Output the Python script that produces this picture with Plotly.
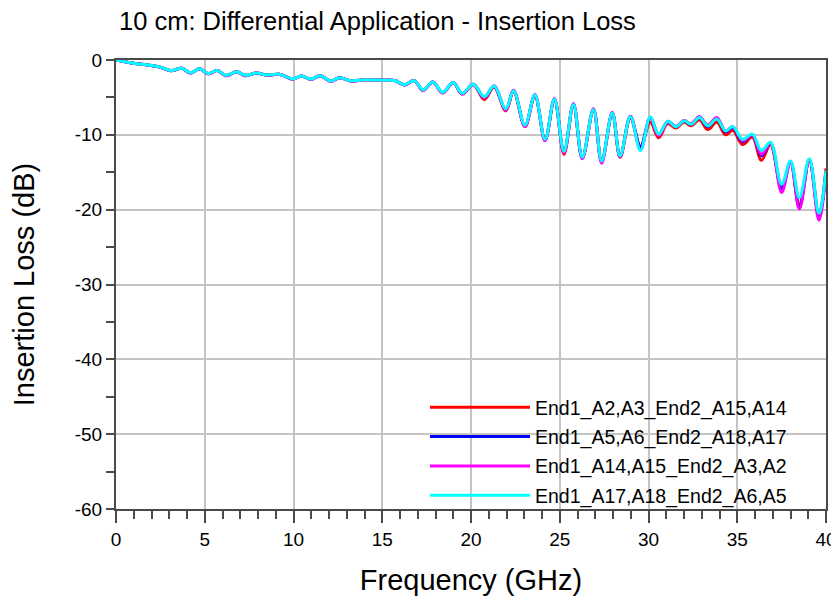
import plotly.graph_objects as go

# Frequency points (GHz) (ripple peaks / troughs)
freq_ghz = [0, 0.8, 2.5, 3.1, 3.7, 4.2, 4.7, 5.2, 5.7, 6.2,
            6.8, 7.3, 7.9, 8.5, 9.2, 9.95, 10.45, 11.0, 11.5, 12.1,
            12.6, 13.2, 14.0, 15.0, 15.7, 16.25, 16.8, 17.3, 17.85, 18.4,
            19.0, 19.5, 20.13, 20.75, 21.3, 21.96, 22.4, 23.04, 23.6, 24.17,
            24.7, 25.24, 25.77, 26.27, 26.9, 27.36, 27.96, 28.4, 28.98, 29.55,
            30.1, 30.57, 31.08, 31.55, 32.0, 32.4, 32.87, 33.34, 33.85, 34.34,
            34.75, 35.3, 35.85, 36.36, 36.87, 37.5, 38.0, 38.5, 39.06, 39.6,
            40.0]

# Insertion loss (dB) for each port pair
il_a2a3 = [0, -0.36, -0.95, -1.4, -1.1, -1.7, -1.16, -1.8, -1.4, -2.05,
           -1.56, -2.05, -1.74, -2.0, -1.9, -2.5, -2.14, -2.55, -2.1, -2.8,
           -2.36, -2.76, -2.65, -2.7, -2.75, -3.3, -2.76, -4.05, -2.94, -4.4,
           -3.0, -4.55, -3.3, -5.3, -3.6, -6.8, -4.2, -8.9, -4.8, -10.7,
           -5.3, -12.6, -6.0, -13.1, -6.7, -13.5, -7.2, -13.0, -7.8, -11.6,
           -8.3, -10.4, -8.5, -9.1, -8.3, -8.8, -8.0, -9.3, -8.3, -10.0,
           -9.4, -11.3, -10.3, -13.4, -11.3, -17.2, -13.6, -19.3, -13.3, -20.9,
           -14.5]
il_a5a6 = [0, -0.36, -0.97, -1.45, -1.1, -1.75, -1.16, -1.85, -1.4, -2.1,
           -1.56, -2.1, -1.74, -2.05, -1.9, -2.55, -2.14, -2.6, -2.1, -2.85,
           -2.36, -2.8, -2.65, -2.7, -2.75, -3.35, -2.76, -4.05, -2.94, -4.35,
           -3.0, -4.5, -3.25, -5.0, -3.5, -6.6, -4.1, -8.8, -4.7, -10.7,
           -5.25, -12.3, -5.9, -13.1, -6.55, -13.6, -7.05, -12.9, -7.55, -11.6,
           -7.7, -10.0, -8.2, -8.9, -8.1, -8.6, -7.6, -8.9, -7.8, -9.6,
           -9.0, -10.9, -10.0, -12.8, -11.1, -17.1, -13.6, -19.7, -13.3, -20.8,
           -15.0]
il_a14a15 = [0, -0.36, -0.97, -1.45, -1.1, -1.75, -1.16, -1.85, -1.4, -2.1,
             -1.56, -2.1, -1.74, -2.05, -1.9, -2.55, -2.14, -2.6, -2.1, -2.85,
             -2.36, -2.8, -2.65, -2.7, -2.75, -3.35, -2.76, -4.1, -2.94, -4.4,
             -3.0, -4.55, -3.25, -5.05, -3.45, -6.7, -4.05, -8.9, -4.6, -10.8,
             -5.15, -12.4, -5.8, -13.2, -6.5, -13.8, -7.0, -12.9, -7.5, -12.0,
             -7.7, -10.1, -8.3, -8.9, -8.1, -8.5, -7.6, -8.7, -7.7, -9.5,
             -8.9, -10.8, -10.0, -12.6, -11.1, -17.7, -13.7, -19.9, -13.4, -21.4,
             -15.0]
il_a17a18 = [0, -0.36, -0.95, -1.4, -1.1, -1.7, -1.16, -1.8, -1.4, -2.05,
             -1.56, -2.05, -1.74, -2.0, -1.9, -2.5, -2.14, -2.55, -2.1, -2.8,
             -2.36, -2.76, -2.65, -2.7, -2.75, -3.3, -2.76, -4.0, -2.94, -4.3,
             -3.0, -4.45, -3.25, -4.9, -3.48, -6.5, -4.1, -8.7, -4.68, -10.6,
             -5.26, -12.2, -5.93, -13.0, -6.6, -13.5, -7.1, -12.8, -7.58, -12.1,
             -7.6, -9.9, -8.2, -8.93, -8.13, -8.58, -7.7, -8.8, -7.9, -9.47,
             -8.9, -10.6, -9.9, -12.1, -11.0, -16.6, -13.5, -18.4, -13.2, -20.5,
             -14.8]

series_names = ["End1_A2,A3_End2_A15,A14", "End1_A5,A6_End2_A18,A17",
                "End1_A14,A15_End2_A3,A2", "End1_A17,A18_End2_A6,A5"]
series_values = [il_a2a3, il_a5a6, il_a14a15, il_a17a18]
series_colors = ["#ff0000", "#0000ff", "#ff00ff", "#00ffff"]

x_ticks = [0, 5, 10, 15, 20, 25, 30, 35, 40]
x_tick_labels = ["0", "5", "10", "15", "20", "25", "30", "35", "40"]
y_ticks = [0, -10, -20, -30, -40, -50, -60]
y_tick_labels = ["0", "-10", "-20", "-30", "-40", "-50", "-60"]

FONT = "Liberation Sans, Arial, sans-serif"
OFF = 8  # page body margin of the HTML page

fig = go.Figure()
for i, (name, vals, col) in enumerate(zip(series_names, series_values, series_colors)):
    fig.add_trace(go.Scatter(
        x=freq_ghz, y=vals, name=name, mode="lines",
        line=dict(color=col, width=3, shape="spline", smoothing=1.0),
        legendgroup=f"g{i}",
    ))

axis_common = dict(
    showgrid=True, gridcolor="#c4c4c4", gridwidth=1.5,
    showline=True, linecolor="#4a4a4a", linewidth=2, mirror=True,
    ticks="outside", tickcolor="#4a4a4a", tickwidth=2,
    zeroline=False, automargin=False,
    tickfont=dict(family=FONT, size=19, color="black"),
    title_font=dict(family=FONT, size=29, color="black"),
)

W, H = 839 - OFF, 604 - OFF
fig.update_layout(
    width=W, height=H, autosize=False,
    margin=dict(l=116 - OFF, r=13, t=60 - OFF, b=95),
    paper_bgcolor="white", plot_bgcolor="white",
    font=dict(family=FONT, color="black"),
    title=dict(text="10 cm: Differential Application - Insertion Loss",
               x=(119 - OFF) / W, xref="container", xanchor="left",
               y=1 - (21 - OFF) / H, yref="container", yanchor="middle",
               font=dict(family=FONT, size=25.5, color="black")),
    xaxis=dict(range=[0, 40], tickvals=x_ticks, ticktext=x_tick_labels, ticklen=12,
               minor=dict(dtick=1, ticks="outside", ticklen=8, tickcolor="#4a4a4a",
                          tickwidth=1.5, showgrid=False),
               title=dict(text="Frequency (GHz)", standoff=21),
               **axis_common),
    yaxis=dict(range=[-60, 0], tickvals=y_ticks, ticktext=y_tick_labels, ticklen=8,
               minor=dict(dtick=5, ticks="outside", ticklen=8, tickcolor="#4a4a4a",
                          tickwidth=1.5, showgrid=False),
               title=dict(text="Insertion Loss (dB)", standoff=42),
               **axis_common),
    legend=dict(x=(425 - 116) / 710, y=(509 - 388) / 449, xanchor="left", yanchor="top",
                bgcolor="rgba(0,0,0,0)", font=dict(family=FONT, size=19.5, color="black"),
                itemwidth=100, tracegroupgap=1),
    showlegend=True,
)

fig.write_html("out.html")
